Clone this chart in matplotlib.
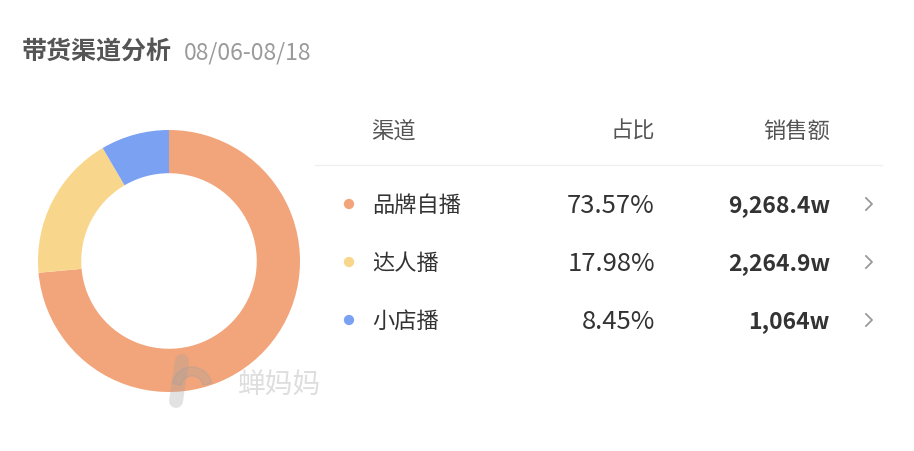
import matplotlib.pyplot as plt
from matplotlib.patches import Wedge

plt.rcParams["font.family"] = ["Noto Sans CJK SC", "DejaVu Sans"]

title = "带货渠道分析"
date_range = "08/06-08/18"
headers = ["渠道", "占比", "销售额"]
channels = ["品牌自播", "达人播", "小店播"]
shares = [73.57, 17.98, 8.45]
share_labels = ["73.57%", "17.98%", "8.45%"]
sales_labels = ["9,268.4w", "2,264.9w", "1,064w"]
colors = ["#F2A57B", "#F8D68B", "#7BA1F2"]

W, H = 914, 452
fig = plt.figure(figsize=(W / 100, H / 100), dpi=100)

# overlay axes in pixel coordinates for all the text
ax = fig.add_axes([0, 0, 1, 1])
ax.set_xlim(0, W)
ax.set_ylim(H, 0)
ax.axis("off")

# donut
cx, cy, r = 169, 262, 131
pax = fig.add_axes([(cx - r) / W, (H - cy - r) / H, 2 * r / W, 2 * r / H])
pax.pie(shares, colors=colors, startangle=90, counterclock=False,
        radius=1, wedgeprops=dict(width=0.33, linewidth=0))
pax.set_xlim(-1, 1)
pax.set_ylim(-1, 1)
pax.axis("off")

# title
ax.text(22, 52, title, fontsize=18, color="#555555", fontweight="bold",
        va="center", ha="left")
ax.text(184, 53, date_range, fontsize=16.5, color="#9a9a9a",
        va="center", ha="left", fontweight="light")

# table header
ax.text(371, 131, headers[0], fontsize=16, color="#555555", va="center")
ax.text(655, 131, headers[1], fontsize=16, color="#555555", va="center", ha="right")
ax.text(830, 131, headers[2], fontsize=16, color="#555555", va="center", ha="right")
ax.plot([315, 882], [166, 166], color="#f0f0f0", lw=1)

row_y = [205, 263, 321]
for i, y in enumerate(row_y):
    ax.scatter([349], [y], s=55, color=colors[i], edgecolors="none")
    ax.text(372, y, channels[i], fontsize=16, color="#333333", va="center")
    ax.text(655, y + 1, share_labels[i], fontsize=18.5, color="#333333",
            va="center", ha="right", fontweight="light")
    ax.text(830, y + 1, sales_labels[i], fontsize=16.5, color="#333333",
            va="center", ha="right", fontweight="bold")
    ax.plot([866, 872, 866], [y - 6, y, y + 6], color="#999999", lw=1.3)

# watermark
wm = fig.add_axes([0, 0, 1, 1])
wm.set_xlim(0, W)
wm.set_ylim(H, 0)
wm.axis("off")
wm.add_patch(Wedge((192, 388), 20, 190, 350, width=9, color="#a0a0a0", alpha=0.3))
wm.plot([182, 176], [362, 402], color="#a0a0a0", lw=10, alpha=0.3,
        solid_capstyle="round")
wm.text(238, 385, "蝉妈妈", fontsize=20, color="#c8c8c8", alpha=0.6,
        va="center", ha="left")

fig.savefig("out.png", dpi=100, facecolor="white")
